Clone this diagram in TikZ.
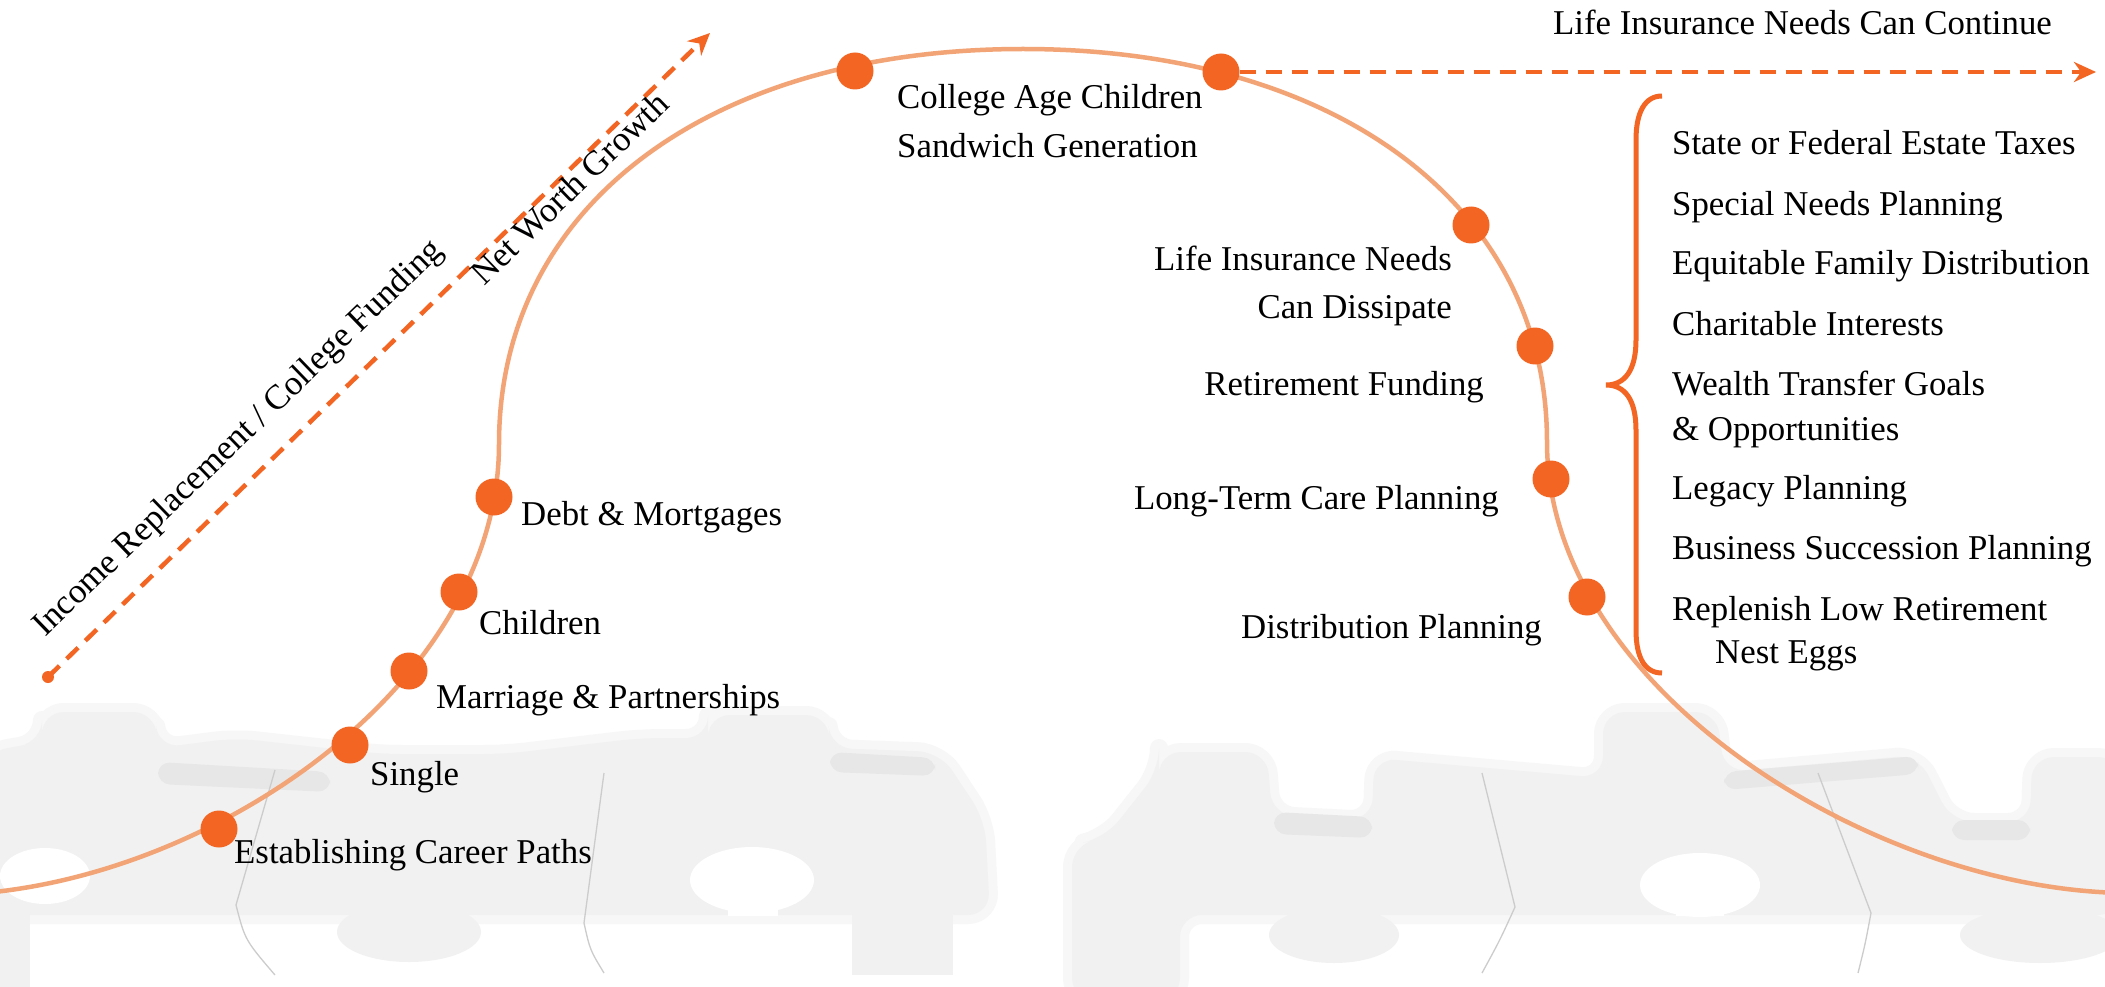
\documentclass[tikz,border=0pt]{standalone}
\usepackage{fontspec}
\setmainfont{Liberation Serif}
\usetikzlibrary{arrows.meta}
\definecolor{org}{HTML}{F26522}
\definecolor{curv}{HTML}{F3A476}
\definecolor{pzg}{HTML}{F1F1F1}
\definecolor{pzsoft}{HTML}{F7F7F7}
\definecolor{pzd}{HTML}{E7E7E7}
\begin{document}
\begin{tikzpicture}[x=1pt,y=-1pt,
  lbl/.style={font=\fontsize{34.8}{42}\selectfont, inner sep=0pt, text=black},
  dot/.style={circle, fill=org, minimum size=37pt, inner sep=0pt},
  startdot/.style={circle, fill=org, minimum size=12pt, inner sep=0pt},
  dashline/.style={draw=org, line width=4.5pt, dash pattern=on 16pt off 10pt, -{Stealth[length=22pt,width=20pt,inset=7pt]}},
  lifecurve/.style={draw=curv, line width=4.5pt},
  pz/.style={fill=pzg, preaction={draw=pzsoft, line width=18pt, line join=round}},
  pzknob/.style={fill=pzg},
  pzdark/.style={fill=pzd},
  seam/.style={draw=black!20, line width=1.3pt},
  bracestyle/.style={draw=org, line width=5pt}
]
\useasboundingbox (0,0) rectangle (2105,987);
\fill[white] (0,0) rectangle (2105,987);

% ---- faint puzzle background ----
\path[pz, rounded corners=22pt] (-15,752) -- (42,742) -- (42,712) -- (155,712) -- (158,748) -- (235,738) -- (380,754) -- (505,754) -- (640,738) -- (708,738) -- (708,715) -- (828,715) -- (830,748) -- (940,752) -- (985,820) -- (990,915) -- (-15,915) -- cycle;
\fill[pzknob] (409,932) ellipse [x radius=72, y radius=30];
\fill[pzknob] (852,900) rectangle (953,975);
\fill[pzknob] (-5,900) rectangle (30,987);
\fill[pzdark, rounded corners=12pt] (158,762) -- (330,772) -- (330,792) -- (158,784) -- cycle;
\fill[pzdark, rounded corners=12pt] (830,752) -- (935,758) -- (935,776) -- (830,772) -- cycle;
\fill[white] (45,876) ellipse [x radius=45, y radius=28];
\fill[white] (752,880) ellipse [x radius=62, y radius=33];
\fill[white] (728,895) rectangle (778,916);
\draw[seam] (275,770) -- (236,905) .. controls (245,940) .. (275,975);
\draw[seam] (604,773) -- (584,923) .. controls (590,950) .. (604,973);

\path[pz, rounded corners=22pt] (1072,1000) -- (1072,845) -- (1105,838) -- (1159,770) -- (1159,752) -- (1267,752) -- (1272,815) -- (1372,820) -- (1374,758) -- (1603,778) -- (1603,712) -- (1717,712) -- (1724,772) -- (1918,755) -- (1952,822) -- (2030,822) -- (2032,757) -- (2120,757) -- (2120,915) -- (1180,915) -- (1180,1000) -- cycle;
\fill[pzknob] (1334,935) ellipse [x radius=65, y radius=28];
\fill[pzknob] (2040,935) ellipse [x radius=80, y radius=28];
\fill[pzdark, rounded corners=12pt] (1274,812) -- (1372,817) -- (1372,838) -- (1274,834) -- cycle;
\fill[pzdark, rounded corners=12pt] (1952,820) -- (2030,820) -- (2030,840) -- (1952,840) -- cycle;
\fill[pzdark, rounded corners=12pt] (1724,772) -- (1918,756) -- (1918,774) -- (1724,790) -- cycle;
\fill[white] (1700,885) ellipse [x radius=60, y radius=32];
\fill[white] (1676,900) rectangle (1724,916);
\draw[seam] (1482,773) -- (1515,907) .. controls (1500,940) .. (1482,973);
\draw[seam] (1818,773) -- (1871,913) .. controls (1865,945) .. (1858,973);

% ---- life curve ----
\draw[lifecurve] (-60,895) .. controls (190,895) and (499,694) .. (499,444)
  .. controls (499,206) and (709,49) .. (1023,49)
  .. controls (1337,49) and (1547,206) .. (1547,442)
  .. controls (1547,692) and (1880,893) .. (2130,893);

% ---- dots ----
\node[dot] (p1) at (219,829) {};
\node[dot] (p2) at (350,745) {};
\node[dot] (p3) at (409,671) {};
\node[dot] (p4) at (459,592) {};
\node[dot] (p5) at (494,497) {};
\node[dot] (p6) at (855,71) {};
\node[dot] (p7) at (1221,72) {};
\node[dot] (p8) at (1471,225) {};
\node[dot] (p9) at (1535,346) {};
\node[dot] (p10) at (1551,479) {};
\node[dot] (p11) at (1587,597) {};

% ---- dashed arrows ----
\node[startdot] (g0) at (48,677) {};
\coordinate (g1) at (710,33);
\draw[dashline] (g0.center) -- (g1);
\coordinate (c1) at (2096,72);
\draw[dashline] (p7) -- (c1);

% ---- brace ----
\draw[bracestyle] (1662,96) .. controls (1645,96) and (1636,112) .. (1636,140) -- (1636,340)
  .. controls (1636,370) and (1625,385) .. (1606,385)
  .. controls (1625,385) and (1636,400) .. (1636,430) -- (1636,630)
  .. controls (1636,658) and (1645,673) .. (1662,673);

% ---- labels ----
\node[lbl, anchor=base west, rotate=44] (tIncome) at (45,638) {Income Replacement / College Funding};
\node[lbl, anchor=base west, rotate=44] (tNet) at (484,287) {Net Worth Growth};
\node[lbl, anchor=base west] (tDebt) at (521,525) {Debt \& Mortgages};
\node[lbl, anchor=base west] (tChildren) at (479,634) {Children};
\node[lbl, anchor=base west] (tMarriage) at (436,708) {Marriage \& Partnerships};
\node[lbl, anchor=base west] (tSingle) at (370,785) {Single};
\node[lbl, anchor=base west] (tCareer) at (234,863) {Establishing Career Paths};
\node[lbl, anchor=base west] (tCollege) at (897,109) {College Age Children};
\node[lbl, anchor=base west] (tSandwich) at (897,158) {Sandwich Generation};
\node[lbl, anchor=base east] (tLifeA) at (1452,270) {Life Insurance Needs};
\node[lbl, anchor=base east] (tLifeB) at (1452,318) {Can Dissipate};
\node[lbl, anchor=base east] (tRet) at (1484,395) {Retirement Funding};
\node[lbl, anchor=base east] (tLTC) at (1499,509) {Long-Term Care Planning};
\node[lbl, anchor=base east] (tDist) at (1542,638) {Distribution Planning};
\node[lbl, anchor=base west] (tCont) at (1553,35) {Life Insurance Needs Can Continue};

\node[lbl, anchor=base west] (l1) at (1672,155) {State or Federal Estate Taxes};
\node[lbl, anchor=base west] (l2) at (1672,216) {Special Needs Planning};
\node[lbl, anchor=base west] (l3) at (1672,275) {Equitable Family Distribution};
\node[lbl, anchor=base west] (l4) at (1672,335) {Charitable Interests};
\node[lbl, anchor=base west] (l5) at (1672,395) {Wealth Transfer Goals};
\node[lbl, anchor=base west] (l5b) at (1672,440) {\& Opportunities};
\node[lbl, anchor=base west] (l6) at (1672,499) {Legacy Planning};
\node[lbl, anchor=base west] (l7) at (1672,559) {Business Succession Planning};
\node[lbl, anchor=base west] (l8) at (1672,620) {Replenish Low Retirement};
\node[lbl, anchor=base west] (l8b) at (1715,663) {Nest Eggs};
\end{tikzpicture}
\end{document}
